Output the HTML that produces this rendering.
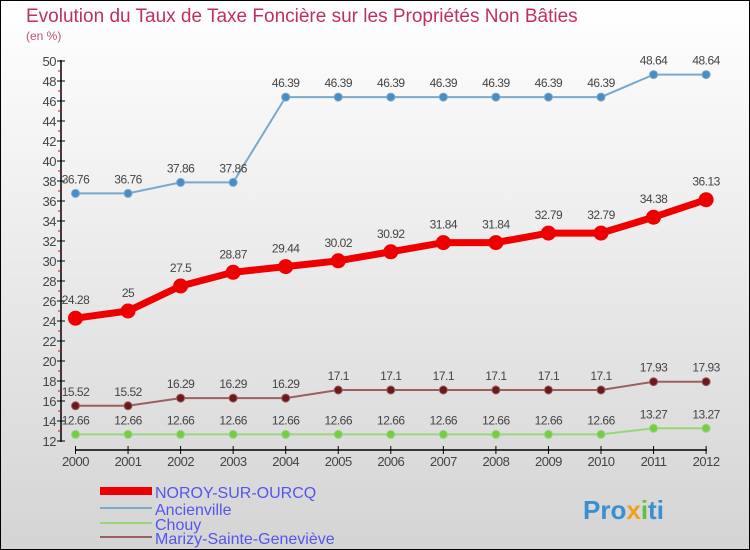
<!DOCTYPE html>
<html><head><meta charset="utf-8"><style>
body{margin:0}
#c{width:750px;height:550px;position:relative;overflow:hidden}
svg text{font-family:"Liberation Sans",sans-serif}
</style></head><body>
<div id="c">
<svg id="s" width="750" height="550" xmlns="http://www.w3.org/2000/svg">
<defs><linearGradient id="bg" x1="0" y1="0" x2="0" y2="1"><stop offset="0" stop-color="#ffffff"/><stop offset="1" stop-color="#d4d4d4"/></linearGradient></defs>
<rect x="0.5" y="0.5" width="749" height="549" fill="url(#bg)" stroke="#000"/>
<text x="26" y="22" font-size="19" fill="#c0305f">Evolution du Taux de Taxe Foncière sur les Propriétés Non Bâties</text>
<text x="26" y="40" font-size="12" fill="#c0507f">(en %)</text>
<g id="axes"></g><g id="series"></g>
<g>
<rect x="100" y="487" width="52" height="8" fill="#ee0000"/>
<text x="155" y="498" font-size="16" fill="#5555ee">NOROY-SUR-OURCQ</text>
<line x1="100" y1="508" x2="152" y2="508" stroke="#7aa9cc" stroke-width="2"/>
<text x="155" y="515" font-size="16" fill="#5555ee">Ancienville</text>
<line x1="100" y1="523" x2="152" y2="523" stroke="#99d67a" stroke-width="2"/>
<text x="155" y="530" font-size="16" fill="#5555ee">Chouy</text>
<line x1="100" y1="537" x2="152" y2="537" stroke="#9a6060" stroke-width="2"/>
<text x="155" y="544" font-size="16" fill="#5555ee">Marizy-Sainte-Geneviève</text>
</g>
<text x="583" y="519" font-size="26" font-weight="bold" fill="#3a8fd0">Pro<tspan fill="#f0a020">x</tspan><tspan fill="#60c040">i</tspan>ti</text>
</svg></div>
<script>
const years=[2000,2001,2002,2003,2004,2005,2006,2007,2008,2009,2010,2011,2012];
const yTicks=[12,14,16,18,20,22,24,26,28,30,32,34,36,38,40,42,44,46,48,50];
const noroy=[24.28,25,27.5,28.87,29.44,30.02,30.92,31.84,31.84,32.79,32.79,34.38,36.13];
const ancienville=[36.76,36.76,37.86,37.86,46.39,46.39,46.39,46.39,46.39,46.39,46.39,48.64,48.64];
const chouy=[12.66,12.66,12.66,12.66,12.66,12.66,12.66,12.66,12.66,12.66,12.66,13.27,13.27];
const marizy=[15.52,15.52,16.29,16.29,16.29,17.1,17.1,17.1,17.1,17.1,17.1,17.93,17.93];
const NS="http://www.w3.org/2000/svg";
const X=i=>75.5+i*52.55, Y=v=>441-(v-12)*10;
function mk(t,a,p){const e=document.createElementNS(NS,t);for(const k in a)e.setAttribute(k,a[k]);p.appendChild(e);return e;}
const ax=document.getElementById('axes');
let yl=mk('line',{x1:61,y1:60,x2:61,y2:442,stroke:'#000','stroke-width':1.5},ax);


yTicks.forEach(v=>{
 mk('line',{x1:57,y1:Y(v),x2:65,y2:Y(v),stroke:'#000'},ax);
 if(v<50)mk('line',{x1:58,y1:Y(v+1),x2:61,y2:Y(v+1),stroke:'#e00'},ax);
 const t=mk('text',{x:56,y:Y(v)+5,'font-size':13,fill:'#444','text-anchor':'end','letter-spacing':'-0.5'},ax);
 t.textContent=v;
 
 
});
let xl=mk('line',{x1:75,y1:450,x2:707,y2:450,stroke:'#000','stroke-width':1.5},ax);


years.forEach((y,i)=>{
 mk('line',{x1:X(i),y1:446,x2:X(i),y2:454,stroke:'#000'},ax);
 const t=mk('text',{x:X(i),y:466,'font-size':13,fill:'#444','text-anchor':'middle','letter-spacing':'-0.5'},ax);
 t.textContent=y;
 
 
});
const sg=document.getElementById('series');
function series(name,data,color,mcolor,w,r,lab){
 const g=mk('g',{},sg);
 
 
 const p=mk('polyline',{points:data.map((v,i)=>X(i)+','+Y(v)).join(' '),fill:'none',stroke:color,'stroke-width':w},g);
 
 
 data.forEach((v,i)=>{
  const c=mk('circle',{cx:X(i),cy:Y(v),r:r,fill:mcolor,stroke:color,'stroke-width':1},g);
  
  
  const t=mk('text',{x:X(i),y:Y(v)-lab,'font-size':12,fill:'#444','text-anchor':'middle','letter-spacing':'-0.5'},g);
  t.textContent=v;
  
  
 });
}
series('chouy',chouy,'#99d67a','#77cc44',2,4,10);
series('marizy',marizy,'#9a6060','#6a1a1a',2,4,10);
series('ancienville',ancienville,'#7aa9cc','#4a8cc4',2,4,10);
series('noroy',noroy,'#ee0000','#ee0000',7,7,14);
</script></body></html>
